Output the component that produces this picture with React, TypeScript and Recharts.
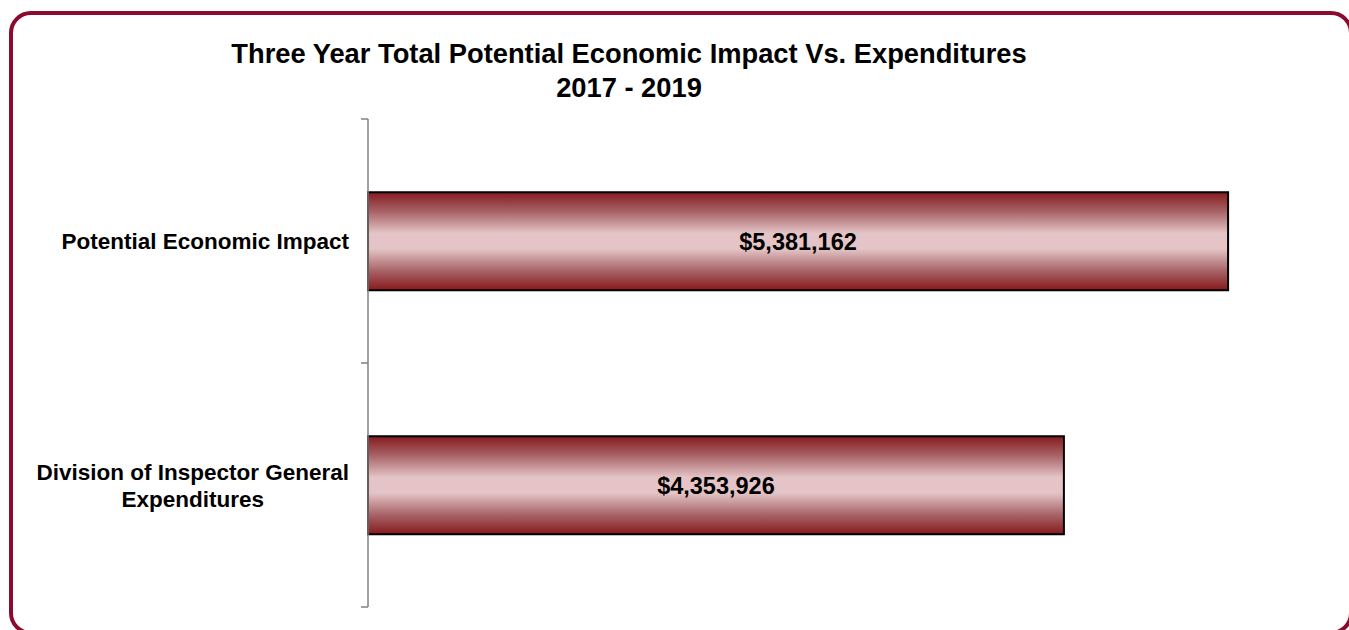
import React from "react";
import { BarChart, Bar, XAxis, YAxis, LabelList } from "recharts";

const categories = [
  "Potential Economic Impact",
  "Division of Inspector General\nExpenditures",
];
const totals = [5381162, 4353926];

const chartData = categories.map((name, i) => ({ name, total: totals[i] }));

const FONT = '"Liberation Sans", Arial, sans-serif';
const AXIS_W = 368;
const TOP = 119;
const BOTTOM = 23;
const H = 630;
const BAND = (H - TOP - BOTTOM) / categories.length;

const fmtMoney = (v: number) => "$" + v.toLocaleString("en-US");

let ctx: CanvasRenderingContext2D | null = null;
function measure(s: string, size: number) {
  if (!ctx) ctx = document.createElement("canvas").getContext("2d");
  if (!ctx) return s.length * size * 0.6;
  ctx.font = `bold ${size}px ${FONT}`;
  return ctx.measureText(s).width;
}

const LABEL_SIZE = 22.5;

function CategoryTick(props: any) {
  const { y, payload, index, visibleTicksCount } = props;
  const lines: string[] = String(payload.value).split("\n");
  const lineH = 27;
  const top = y - ((lines.length - 1) * lineH) / 2;
  const right = AXIS_W - 19;
  const blockW = Math.max(...lines.map((l) => measure(l, LABEL_SIZE)));
  const cx = right - blockW / 2;
  const last = index === visibleTicksCount - 1;
  return (
    <g>
      <line x1={AXIS_W - 7} x2={AXIS_W} y1={y - BAND / 2} y2={y - BAND / 2} stroke="#808080" strokeWidth={1.5} />
      {last && (
        <line x1={AXIS_W - 7} x2={AXIS_W} y1={y + BAND / 2} y2={y + BAND / 2} stroke="#808080" strokeWidth={1.5} />
      )}
      {lines.map((l, i) => (
        <text
          key={i}
          x={cx}
          y={top + i * lineH}
          dy={8}
          textAnchor="middle"
          fontFamily={FONT}
          fontWeight="bold"
          fontSize={LABEL_SIZE}
          fill="#000"
        >
          {l}
        </text>
      ))}
    </g>
  );
}

export default function App() {
  return (
    <div
      style={{
        position: "absolute",
        left: 0,
        top: 0,
        width: 1349,
        height: 630,
        background: "#fff",
        overflow: "hidden",
        fontFamily: FONT,
      }}
    >
      <div
        style={{
          position: "absolute",
          left: 9,
          top: 11,
          width: 1344,
          height: 624,
          border: "4px solid #8b0a2e",
          borderRadius: 22,
          boxSizing: "border-box",
        }}
      />
      <div
        style={{
          position: "absolute",
          left: 0,
          top: 37,
          width: 1258,
          textAlign: "center",
          fontWeight: "bold",
          fontSize: 27.3,
          lineHeight: "34px",
          color: "#000",
        }}
      >
        Three Year Total Potential Economic Impact Vs. Expenditures
        <br />
        2017 - 2019
      </div>
      <div style={{ position: "absolute", left: 0, top: 0 }}>
        <BarChart
          width={1349}
          height={H}
          data={chartData}
          layout="vertical"
          margin={{ top: TOP, right: 22, bottom: BOTTOM, left: 0 }}
          barCategoryGap="30%"
        >
          <defs>
            <linearGradient id="barGrad" x1="0" y1="0" x2="0" y2="1">
              <stop offset="0%" stopColor="#861a1e" />
              <stop offset="20%" stopColor="#a86468" />
              <stop offset="42%" stopColor="#e4c4c6" />
              <stop offset="58%" stopColor="#e4c4c6" />
              <stop offset="80%" stopColor="#a86468" />
              <stop offset="100%" stopColor="#861a1e" />
            </linearGradient>
          </defs>
          <XAxis type="number" domain={[0, 6000000]} hide />
          <YAxis
            type="category"
            dataKey="name"
            width={AXIS_W}
            axisLine={{ stroke: "#808080", strokeWidth: 1.5 }}
            tickLine={false}
            tick={<CategoryTick />}
            interval={0}
          />
          <Bar
            dataKey="total"
            fill="url(#barGrad)"
            stroke="#000"
            strokeWidth={2}
            isAnimationActive={false}
          >
            <LabelList
              dataKey="total"
              position="center"
              formatter={(v: any) => fmtMoney(Number(v))}
              fill="#000"
              fontFamily={FONT}
              fontWeight="bold"
              fontSize={23.5}
            />
          </Bar>
        </BarChart>
      </div>
    </div>
  );
}
